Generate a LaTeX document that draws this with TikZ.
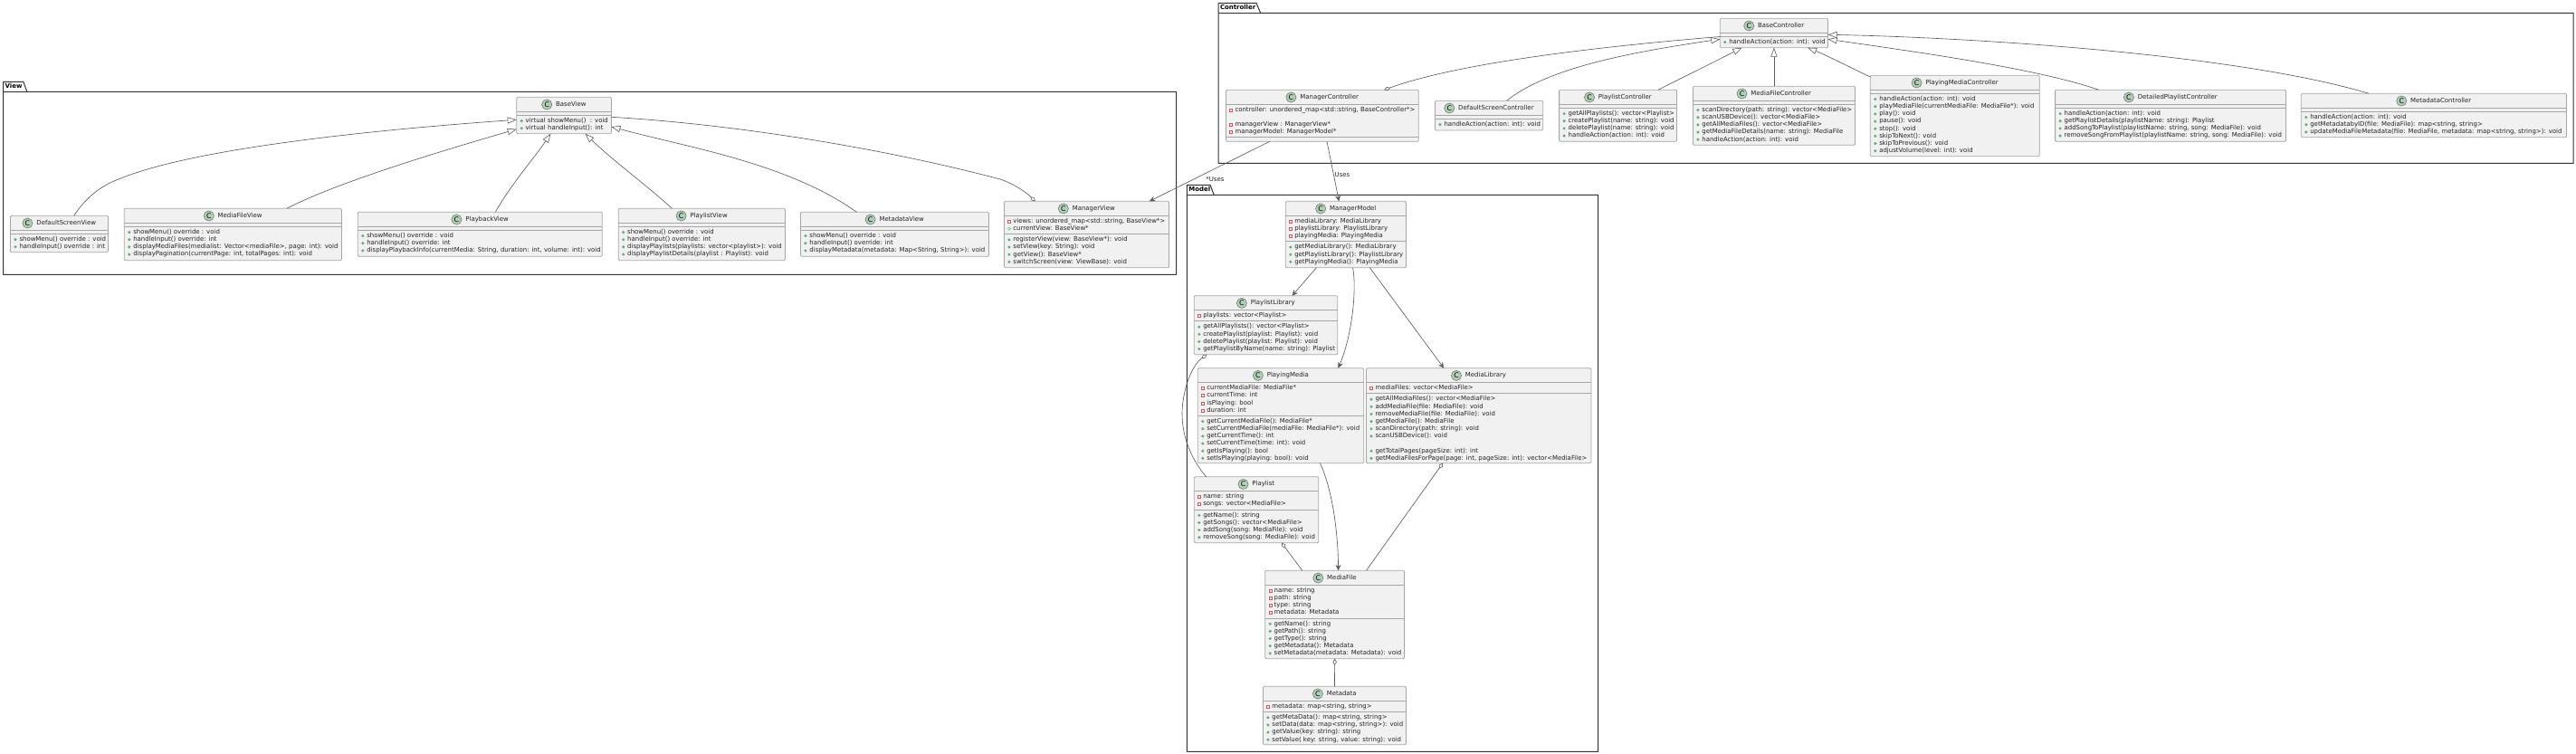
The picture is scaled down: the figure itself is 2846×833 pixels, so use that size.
\documentclass[tikz,border=0pt]{standalone}
\usepackage{fontspec}
\setmainfont{DejaVu Sans}
\usetikzlibrary{calc,arrows.meta}
\definecolor{boxfill}{HTML}{F1F1F1}
\definecolor{boxline}{HTML}{A6A6A6}
\definecolor{framec}{HTML}{333333}
\definecolor{connc}{HTML}{5A5A5A}
\definecolor{iconfill}{HTML}{ADD1B2}
\definecolor{iconline}{HTML}{606060}
\definecolor{txtc}{HTML}{222222}
\definecolor{pubc}{HTML}{5FAF7A}
\definecolor{privc}{HTML}{D0575A}
\newcommand{\uml}{\fontsize{3.47pt}{4pt}\selectfont}
\tikzset{
  classbox/.style={draw=boxline,fill=boxfill,line width=.4pt,rounded corners=.6pt,inner sep=0,outer sep=0},
  classsep/.style={draw=boxline,line width=.4pt},
  titletext/.style={font=\uml,text=txtc,inner sep=0,outer sep=0,text height=2.7pt,text depth=.75pt},
  rowtext/.style={font=\uml,text=txtc,inner sep=0,outer sep=0,text height=2.7pt,text depth=.75pt,anchor=west},
  lbltext/.style={font=\uml,text=txtc,inner sep=0,outer sep=0,text height=2.7pt,text depth=.75pt,anchor=west},
  tabtext/.style={font=\uml\bfseries,text=black,inner sep=0,outer sep=0,text height=2.7pt,text depth=.75pt,anchor=west},
  cicon/.style={circle,draw=iconline,fill=iconfill,line width=.22pt,minimum size=5.6pt,inner sep=0,outer sep=0,font=\fontsize{3.9pt}{4pt}\selectfont,text=black},
  framep/.style={draw=framec,line width=.5pt,line join=round},
  conn/.style={draw=connc,line width=.32pt},
  inh/.style={conn,-{Triangle[open,length=5pt,width=3.6pt,line width=.3pt]}},
  agg/.style={conn,{Diamond[open,length=3.6pt,width=2.2pt,line width=.3pt]}-},
  assoc/.style={conn,-{Stealth[length=3.2pt,width=3pt,inset=1.1pt,line width=.2pt]}},
}
\newcount\rowno
\newcommand{\cls}[6]{%
  \def\curname{#1}\def\curxa{#2}\def\curxb{#4}%
  \pgfmathsetmacro\bw{(#4-#2)*0.5}\pgfmathsetmacro\bh{(#5-#3)*0.5}%
  \pgfmathsetmacro\cx{(#2+#4)/2}\pgfmathsetmacro\cy{(#3+#5)/2}%
  \node[classbox,minimum width=\bw pt,minimum height=\bh pt] (#1) at (\cx,\cy) {};
  \node[titletext] (#1-title) at (\cx+7.8,#3+8.2) {#6};
  \node[cicon] (#1-icon) at ($(#1-title.west)+(-9.95,0)$) {C};
  \pgfmathsetmacro\cursep{#3+16}%
  \draw[classsep] (#2,\cursep) -- (#4,\cursep);
  \def\currow{0}%
}
\newcommand{\nextsec}{%
  \pgfmathsetmacro\cursep{\cursep+8.15*\currow+4}%
  \draw[classsep] (\curxa,\cursep) -- (\curxb,\cursep);
  \def\currow{0}%
}
\newcommand{\rowtxt}[1]{%
  \pgfmathsetmacro\rowy{\cursep+6.2+8.15*\currow}%
  \pgfmathsetmacro\rowi{\curxa+5.5}%
  \pgfmathsetmacro\rowt{\curxa+10}%
  \advance\rowno by 1
  \node[rowtext] (\curname-r\the\rowno) at (\rowt,\rowy) {#1};
  \pgfmathsetmacro\currow{\currow+1}%
}
\newcommand{\fld}[1]{\rowtxt{#1}%
  \draw[privc,line width=.22pt] (\rowi-1.5,\rowy-1.4) rectangle (\rowi+1.5,\rowy+1.6);}
\newcommand{\pfld}[1]{\rowtxt{#1}%
  \draw[pubc,line width=.22pt] (\rowi,\rowy+.1) circle[radius=.8pt];}
\newcommand{\mth}[1]{\rowtxt{#1}%
  \fill[pubc] (\rowi,\rowy+.1) circle[radius=.85pt];}
\newcommand{\blankrow}{\pgfmathsetmacro\currow{\currow+1}}
\begin{document}
\begin{tikzpicture}[x=.5pt,y=-.5pt]
\useasboundingbox (0,0) rectangle (2846,833);
% packages
\draw[framep] (3.7,90.3) -- (25.8,90.3) -- (29.8,101.3) -- (1299.5,101.3) -- (1299.5,303.3) -- (3.7,303.3) -- cycle;
\draw[framep] (3.7,101.3) -- (29.8,101.3);
\node[tabtext] (ViewTab) at (5.7,96) {View};
\draw[framep] (1346,3.3) -- (1388,3.3) -- (1392.6,14.3) -- (2843.2,14.3) -- (2843.2,180.3) -- (1346,180.3) -- cycle;
\draw[framep] (1346,14.3) -- (1392.6,14.3);
\node[tabtext] (ControllerTab) at (1348,9) {Controller};
\draw[framep] (1311.4,204.3) -- (1337,204.3) -- (1341.2,215.3) -- (1765.5,215.3) -- (1765.5,830.3) -- (1311.4,830.3) -- cycle;
\draw[framep] (1311.4,215.3) -- (1341.2,215.3);
\node[tabtext] (ModelTab) at (1313.4,210) {Model};
% View classes
\cls{BaseView}{570.7}{107.3}{675.4}{147.7}{BaseView}
\nextsec
\mth{virtual showMenu()\ \ : void}
\mth{virtual handleInput(): int}
\cls{DefaultScreenView}{11.5}{238.3}{119.4}{278.7}{DefaultScreenView}
\nextsec
\mth{showMenu() override : void}
\mth{handleInput() override : int}
\cls{MediaFileView}{137.3}{230.3}{377.4}{287.7}{MediaFileView}
\nextsec
\mth{showMenu() override : void}
\mth{handleInput() override: int}
\mth{displayMediaFiles(medialist: Vector<mediaFile>, page: int): void}
\mth{displayPagination(currentPage: int, totalPages: int): void}
\cls{PlaybackView}{395.3}{234.3}{665.3}{283.3}{PlaybackView}
\nextsec
\mth{showMenu() override : void}
\mth{handleInput() override: int}
\mth{displayPlaybackInfo(currentMedia: String, duration: int, volume: int): void}
\cls{PlaylistView}{683.2}{230.3}{867.4}{287.7}{PlaylistView}
\nextsec
\mth{showMenu() override : void}
\mth{handleInput() override: int}
\mth{displayPlaylists(playlists: vector<playlist>): void}
\mth{displayPlaylistDetails(playlist : Playlist): void}
\cls{MetadataView}{884.4}{234.3}{1092.4}{283.3}{MetadataView}
\nextsec
\mth{showMenu() override : void}
\mth{handleInput() override: int}
\mth{displayMetadata(metadata: Map<String, String>): void}
\cls{ManagerView}{1109.4}{222.3}{1291.5}{295.7}{ManagerView}
\fld{views: unordered\_map<std::string, BaseView*>}
\pfld{currentView: BaseView*}
\nextsec
\mth{registerView(view: BaseView*): void}
\mth{setView(key: String): void}
\mth{getView(): BaseView*}
\mth{switchScreen(view: ViewBase): void}
% Controller classes
\cls{BaseController}{1900.3}{20.3}{2019.5}{52.7}{BaseController}
\nextsec
\mth{handleAction(action: int): void}
\cls{ManagerController}{1354.5}{99.3}{1567.2}{156.3}{ManagerController}
\fld{controller: unordered\_map<std::string, BaseController*>}
\blankrow
\fld{managerView : ManagerView*}
\fld{managerModel: ManagerModel*}
\nextsec
\cls{DefaultScreenController}{1585.5}{111.3}{1704.7}{144}{DefaultScreenController}
\nextsec
\mth{handleAction(action: int): void}
\cls{PlaylistController}{1722.6}{99.3}{1852.5}{156.3}{PlaylistController}
\nextsec
\mth{getAllPlaylists(): vector<Playlist>}
\mth{createPlaylist(name: string): void}
\mth{deletePlaylist(name: string): void}
\mth{handleAction(action: int): void}
\cls{MediaFileController}{1870.4}{95.3}{2049.4}{160.3}{MediaFileController}
\nextsec
\mth{scanDirectory(path: string): vector<MediaFile>}
\mth{scanUSBDevice(): vector<MediaFile>}
\mth{getAllMediaFiles(): vector<MediaFile>}
\mth{getMediaFileDetails(name: string): MediaFile}
\mth{handleAction(action: int): void}
\cls{PlayingMediaController}{2066.3}{83.3}{2253.3}{172.7}{PlayingMediaController}
\nextsec
\mth{handleAction(action: int): void}
\mth{playMediaFile(currentMediaFile: MediaFile*): void}
\mth{play(): void}
\mth{pause(): void}
\mth{stop(): void}
\mth{skipToNext(): void}
\mth{skipToPrevious(): void}
\mth{adjustVolume(level: int): void}
\cls{DetailedPlaylistController}{2270.6}{99.3}{2525.4}{156.3}{DetailedPlaylistController}
\nextsec
\mth{handleAction(action: int): void}
\mth{getPlaylistDetails(playlistName: string): Playlist}
\mth{addSongToPlaylist(playlistName: string, song: MediaFile): void}
\mth{removeSongFromPlaylist(playlistName: string, song: MediaFile): void}
\cls{MetadataController}{2542.3}{103.3}{2835.5}{151.7}{MetadataController}
\nextsec
\mth{handleAction(action: int): void}
\mth{getMetadatabyID(file: MediaFile): map<string, string>}
\mth{updateMediaFileMetadata(file: MediaFile, metadata: map<string, string>): void}
% Model classes
\cls{ManagerModel}{1420.3}{222.3}{1553.5}{295.7}{ManagerModel}
\fld{mediaLibrary: MediaLibrary}
\fld{playlistLibrary: PlaylistLibrary}
\fld{playingMedia: PlayingMedia}
\nextsec
\mth{getMediaLibrary(): MediaLibrary}
\mth{getPlaylistLibrary(): PlaylistLibrary}
\mth{getPlayingMedia(): PlayingMedia}
\cls{PlaylistLibrary}{1319.3}{326.7}{1477.7}{391.7}{PlaylistLibrary}
\fld{playlists: vector<Playlist>}
\nextsec
\mth{getAllPlaylists(): vector<Playlist>}
\mth{createPlaylist(playlist: Playlist): void}
\mth{deletePlaylist(playlist: Playlist): void}
\mth{getPlaylistByName(name: string): Playlist}
\cls{PlayingMedia}{1323.3}{406.7}{1506.8}{511.7}{PlayingMedia}
\fld{currentMediaFile: MediaFile*}
\fld{currentTime: int}
\fld{isPlaying: bool}
\fld{duration: int}
\nextsec
\mth{getCurrentMediaFile(): MediaFile*}
\mth{setCurrentMediaFile(mediaFile: MediaFile*): void}
\mth{getCurrentTime(): int}
\mth{setCurrentTime(time: int): void}
\mth{getIsPlaying(): bool}
\mth{setIsPlaying(playing: bool): void}
\cls{MediaLibrary}{1509.5}{406.7}{1757.9}{511.7}{MediaLibrary}
\fld{mediaFiles: vector<MediaFile>}
\nextsec
\mth{getAllMediaFiles(): vector<MediaFile>}
\mth{addMediaFile(file: MediaFile): void}
\mth{removeMediaFile(file: MediaFile): void}
\mth{getMediaFile(): MediaFile}
\mth{scanDirectory(path: string): void}
\mth{scanUSBDevice(): void}
\blankrow
\mth{getTotalPages(pageSize: int): int}
\mth{getMediaFilesForPage(page: int, pageSize: int): vector<MediaFile>}
\cls{Playlist}{1319.3}{526.7}{1456.7}{599.7}{Playlist}
\fld{name: string}
\fld{songs: vector<MediaFile>}
\nextsec
\mth{getName(): string}
\mth{getSongs(): vector<MediaFile>}
\mth{addSong(song: MediaFile): void}
\mth{removeSong(song: MediaFile): void}
\cls{MediaFile}{1397.7}{630.3}{1551.6}{727.7}{MediaFile}
\fld{name: string}
\fld{path: string}
\fld{type: string}
\fld{metadata: Metadata}
\nextsec
\mth{getName(): string}
\mth{getPath(): string}
\mth{getType(): string}
\mth{getMetadata(): Metadata}
\mth{setMetadata(metadata: Metadata): void}
\cls{Metadata}{1395.4}{758.3}{1553.5}{822.7}{Metadata}
\fld{metadata: map<string, string>}
\nextsec
\mth{getMetaData(): map<string, string>}
\mth{setData(data: map<string, string>): void}
\mth{getValue(key: string): string}
\mth{setValue( key: string, value: string): void}
% View connectors
\draw[inh] ($(DefaultScreenView.north west)+(70.2,0)$) .. controls (95,218) and (112,205) .. (131,198) .. controls (215,163) and (420,143) .. ($(BaseView.north west)+(0,25)$);
\draw[inh] ($(MediaFileView.north west)+(179.5,0)$) .. controls (370,203) and (470,172) .. ($(BaseView.north west)+(0,35.4)$);
\draw[inh] ($(PlaybackView.north west)+(152,0)$) .. controls (565,203) and (590,175) .. ($(BaseView.south west)+(37.7,0)$);
\draw[inh] ($(PlaylistView.north west)+(59.2,0)$) .. controls (715,205) and (680,180) .. ($(BaseView.south west)+(75.8,0)$);
\draw[inh] ($(MetadataView.north west)+(62,0)$) .. controls (870,180) and (760,163) .. ($(BaseView.north east)+(0,32.7)$);
\draw[agg] ($(ManagerView.north west)+(34.4,0)$) .. controls (1133,212) and (1122,204) .. (1105,198) .. controls (980,165) and (820,138) .. ($(BaseView.north east)+(0,22)$);
% Controller connectors
\draw[agg] ($(ManagerController.north west)+(174.8,0)$) .. controls (1610,70) and (1760,52) .. ($(BaseController.north west)+(0,20.2)$);
\draw[inh] ($(DefaultScreenController.north west)+(79,0)$) .. controls (1710,75) and (1800,58) .. ($(BaseController.north west)+(0,23)$);
\draw[inh] ($(PlaylistController.north west)+(109.4,0)$) .. controls (1860,85) and (1895,68) .. ($(BaseController.south west)+(24.1,0)$);
\draw[inh] (MediaFileController.north -| BaseController.south) -- (BaseController.south);
\draw[inh] ($(PlayingMediaController.north west)+(0,1.7)$) .. controls (2045,75) and (2020,62) .. ($(BaseController.south west)+(96.8,0)$);
\draw[inh] ($(DetailedPlaylistController.north west)+(48,0)$) .. controls (2250,75) and (2100,55) .. ($(BaseController.north east)+(0,23)$);
\draw[inh] ($(MetadataController.north west)+(74.7,0)$) .. controls (2480,62) and (2200,42) .. ($(BaseController.north east)+(0,18)$);
% Uses
\draw[assoc] ($(ManagerController.south west)+(48.2,0)$) -- node[pos=.56,lbltext,xshift=2pt,yshift=-2.5pt] (UsesA) {*Uses} ($(ManagerView.north west)+(160.6,0)$);
\draw[assoc] ($(ManagerController.south west)+(111.5,0)$) -- node[pos=.56,lbltext,xshift=.6pt] (UsesB) {Uses} ($(ManagerModel.north west)+(59,0)$);
% Model connectors
\draw[assoc] ($(ManagerModel.south west)+(34.1,0)$) -- ($(PlaylistLibrary.north west)+(108.3,0)$);
\draw[assoc] ($(ManagerModel.south west)+(74.3,0)$) .. controls (1499,320) and (1494,370) .. ($(PlayingMedia.north west)+(155.2,0)$);
\draw[assoc] ($(ManagerModel.south west)+(93,0)$) -- ($(MediaLibrary.north west)+(85.7,0)$);
\draw[assoc] ($(PlayingMedia.south west)+(135,0)$) .. controls (1472,540) and (1478.5,590) .. ($(MediaFile.north west)+(80.8,0)$);
\draw[agg] ($(MediaLibrary.south west)+(84.5,0)$) -- ($(MediaFile.north west)+(111.8,0)$);
\draw[agg] ($(Playlist.south west)+(96.7,0)$) -- ($(MediaFile.north west)+(41,0)$);
\draw[agg] (MediaFile.south) -- (Metadata.north);
\draw[agg] ($(PlaylistLibrary.south west)+(14,0)$) .. controls (1315,405) and (1306,435) .. (1306,457) .. controls (1306,485) and (1318,510) .. ($(Playlist.north west)+(13.4,0)$);
\end{tikzpicture}
\end{document}
